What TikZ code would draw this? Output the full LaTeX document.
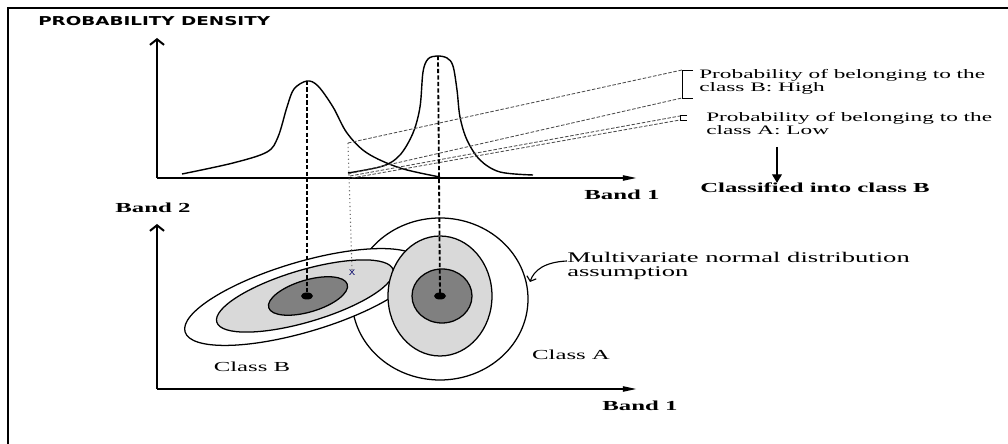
\documentclass[tikz,border=0pt]{standalone}
\usepackage{fontspec}
\newfontfamily\labelfont[FakeStretch=1.8]{Liberation Serif}
\newfontfamily\headfont[FakeStretch=1.5]{DejaVu Sans}
\usetikzlibrary{arrows.meta,positioning}

\begin{document}
\begin{tikzpicture}[x=0.025cm, y=-0.025cm,
    axisline/.style={line width=1.4pt},
    peakline/.style={line width=1.3pt, dash pattern=on 3pt off 1.6pt},
    probline/.style={black!70, line width=0.6pt, dash pattern=on 2.5pt off 1.2pt},
    ellline/.style={draw, line width=0.9pt},
    txt/.style={font=\labelfont\fontsize{9.8pt}{10pt}\selectfont, inner sep=0pt},
    smalltxt/.style={font=\labelfont\fontsize{9.2pt}{9.2pt}\selectfont, inner sep=0pt, align=left, anchor=west},
    bandtxt/.style={font=\labelfont\bfseries\fontsize{9.8pt}{10pt}\selectfont, inner sep=0pt}]
    \useasboundingbox (0,0) rectangle (1008,444);
    % frame
    \draw[line width=1.8pt] (8,444) -- (8,8) -- (1008,8);
    \node[font=\headfont\bfseries\fontsize{8.7pt}{9pt}\selectfont, anchor=west, inner sep=0pt] (title) at (38,21) {PROBABILITY DENSITY};

    % upper graph: densities along band 1
    \coordinate (oU) at (157,178);
    \draw[axisline, -{Straight Barb[length=4pt, width=10pt]}] (oU) -- (157,38);
    \draw[axisline, -{Triangle[length=10pt, width=3.6pt]}] (oU) -- (637,178);
    \node[bandtxt] (band1U) at (622,195) {Band 1};
    \node[bandtxt] (band2) at (153,208) {Band 2};

    % class B density
    \draw[line width=1pt] plot[smooth, tension=0.55] coordinates {(182,174) (233,163) (267,152) (278,137) (287,107) (294,89) (307,81) (318,86) (333,107) (347,133) (367,153) (400,168) (440,177)};
    % class A density
    \draw[line width=1pt] plot[smooth, tension=0.55] coordinates {(348,173) (383,166) (400,155) (413,133) (420,107) (423,72) (428,59) (437,56) (447,58) (453,66) (457,90) (460,117) (467,140) (480,160) (500,172) (533,175)};

    \coordinate (peakB) at (307,81);
    \coordinate (peakA) at (438,56);
    \coordinate (hitB) at (348,143);
    \coordinate (hitA) at (348,174);

    % brackets and their texts
    \draw[line width=0.7pt] (693,70) -- (682,70) -- (682,98) -- (693,98);
    \draw[line width=0.7pt] (687,115) -- (680,115) -- (680,120) -- (687,120);
    \coordinate (brBtop) at (682,70);
    \coordinate (brBbot) at (682,98);
    \coordinate (brAtop) at (680,116);
    \coordinate (brAbot) at (680,120);
    \draw[probline] (hitB) -- (brBtop);
    \draw[probline] (hitA) -- (brBbot);
    \draw[probline] (350,176) -- (brAtop);
    \draw[probline] (352,178) -- (brAbot);

    \node[smalltxt] (probB) at (699,82) {Probability of belonging to the\\class B: High};
    \node[smalltxt] (probA) at (706,124) {Probability of belonging to the\\class A: Low};
    \node[bandtxt] (result) at (815,188) {Classified into class B};
    \draw[line width=0.8pt, -{Triangle[length=6pt, width=7pt]}] (777,147) -- (result.north -| 777,0);

    % lower graph: band 1 against band 2
    \coordinate (oL) at (157,389);
    \draw[axisline, -{Straight Barb[length=4pt, width=10pt]}] (oL) -- (157,224);
    \draw[axisline, -{Triangle[length=10pt, width=3.6pt]}] (oL) -- (637,389);
    \node[bandtxt] (band1L) at (640,406) {Band 1};

    \coordinate (centerB) at (307,296);
    \coordinate (centerA) at (440,296);
    \draw[ellline, fill=white] (440,299) ellipse [x radius=88, y radius=81];
    \draw[ellline, fill=white, rotate around={16.5:(303,297)}] (303,297) ellipse [x radius=123, y radius=35];
    \draw[ellline, fill=gray!30, rotate around={16.5:(305,296)}] (305,296) ellipse [x radius=92, y radius=26];
    \draw[ellline, fill=gray!30] (440,296) ellipse [x radius=52, y radius=60];
    \draw[ellline, fill=black!50] (442,296) ellipse [x radius=30, y radius=27];
    \draw[ellline, fill=black!50, rotate around={16.5:(308,296)}] (308,296) ellipse [x radius=41, y radius=16];

    % projections
    \draw[peakline] (peakB) -- (centerB);
    \draw[peakline] (peakA) -- (centerA);
    \fill (centerB) ellipse [x radius=6, y radius=3.5];
    \fill (centerA) ellipse [x radius=6, y radius=3.5];
    \node[font=\sffamily\fontsize{9pt}{9pt}\selectfont, text=black!60!blue, inner sep=0pt] (pix) at (352,273) {x};
    \draw[black!55, line width=0.8pt, dotted] (hitB) -- (pix.north);

    \node[txt] (classB) at (252,367) {Class B};
    \node[txt] (classA) at (571,355) {Class A};
    \node[txt, align=left, anchor=west, font=\labelfont\fontsize{10.5pt}{10.6pt}\selectfont] (assume) at (567,266) {Multivariate normal distribution\\assumption};
    \draw[line width=0.8pt, -{Straight Barb[length=3pt, width=7pt]}] (assume.west |- 0,261) .. controls (545,262) and (534,270) .. (530,282);
\end{tikzpicture}
\end{document}
